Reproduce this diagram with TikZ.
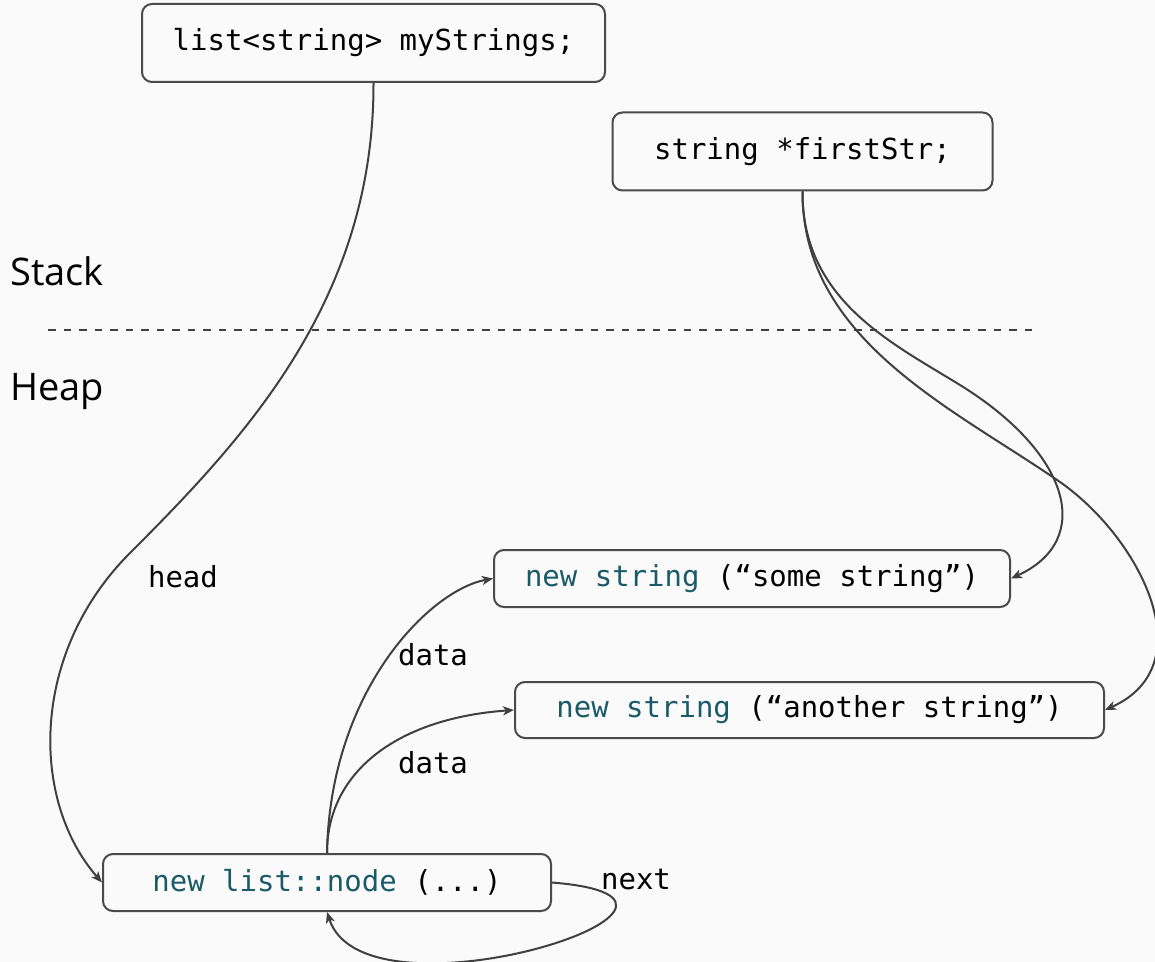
\documentclass[tikz,border=0pt]{standalone}
\usepackage{fontspec}
\setmainfont{Open Sans}
\setmonofont{DejaVu Sans Mono}
\usetikzlibrary{arrows.meta}
\definecolor{bgc}{HTML}{FAFAFA}
\definecolor{linec}{HTML}{404040}
\definecolor{boxc}{HTML}{4A4A4A}
\definecolor{kw}{HTML}{1B5A68}
\newcommand{\kwd}[1]{\textcolor{kw}{#1}}
\begin{document}
\begin{tikzpicture}[x=0.5pt,y=-0.5pt,
  box/.style={draw=boxc, line width=1pt, rounded corners=5pt, inner sep=0pt,
    font=\ttfamily\fontsize{14.5}{17}\selectfont, text=black},
  lbl/.style={inner sep=0pt, font=\ttfamily\fontsize{14.5}{17}\selectfont, text=black},
  side/.style={inner sep=0pt, anchor=base west, font=\fontsize{19}{23}\selectfont, text=black},
  conn/.style={draw=linec, line width=1pt, -{Stealth[length=5.5pt,width=4.5pt,inset=1.5pt]}},
  sep/.style={draw=linec, line width=1pt, dash pattern=on 3.75pt off 4pt}]
\fill[bgc] (0,0) rectangle (1155,962);
\useasboundingbox (0,0) rectangle (1155,962);

\node[box, minimum width=231.5pt, minimum height=39pt] (ls) at (373.5,43) {list<string> myStrings;};
\node[box, minimum width=190pt, minimum height=39pt] (fs) at (802.5,151.5) {string *firstStr;};
\node[box, minimum width=258pt, minimum height=28.5pt] (s1) at (752,578.5) {\kwd{new string} (“some string”)};
\node[box, minimum width=294.5pt, minimum height=28pt] (s2) at (809.5,710) {\kwd{new string} (“another string”)};
\node[box, minimum width=224pt, minimum height=28.5pt] (lnode) at (327,882.5) {\kwd{new list::node} (...)};

\node[side] (stack) at (10,286) {Stack};
\node[side] (heap) at (10,400) {Heap};
\coordinate (sepL) at (48,330);
\coordinate (sepR) at (1037,330);
\draw[sep] (sepL) -- (sepR);

\draw[conn] (ls.south) .. controls (374,300) and (245,438) .. (130,553)
  .. controls (30,653) and (30,800) .. (lnode.west);
\node[lbl] (head) at (183,577) {head};

\draw[conn] (fs.south) .. controls (802,300) and (892,343) .. (960,385)
  .. controls (1070,453) and (1095,540) .. (s1.east);
\draw[conn] (fs.south) .. controls (802,340) and (953,408) .. (1060,482)
  .. controls (1140,538) and (1205,665) .. (s2.east);

\draw[conn] (lnode.north) .. controls (330,690) and (430,590) .. (s1.west);
\node[lbl] (d1) at (433,655) {data};
\draw[conn] (lnode.north) .. controls (327,770) and (400,718) .. (s2.west);
\node[lbl] (d2) at (433,763) {data};

\draw[conn] (lnode.east) .. controls (770,900) and (365,1030) .. (lnode.south);
\node[lbl] (nx) at (636,880) {next};
\end{tikzpicture}
\end{document}
